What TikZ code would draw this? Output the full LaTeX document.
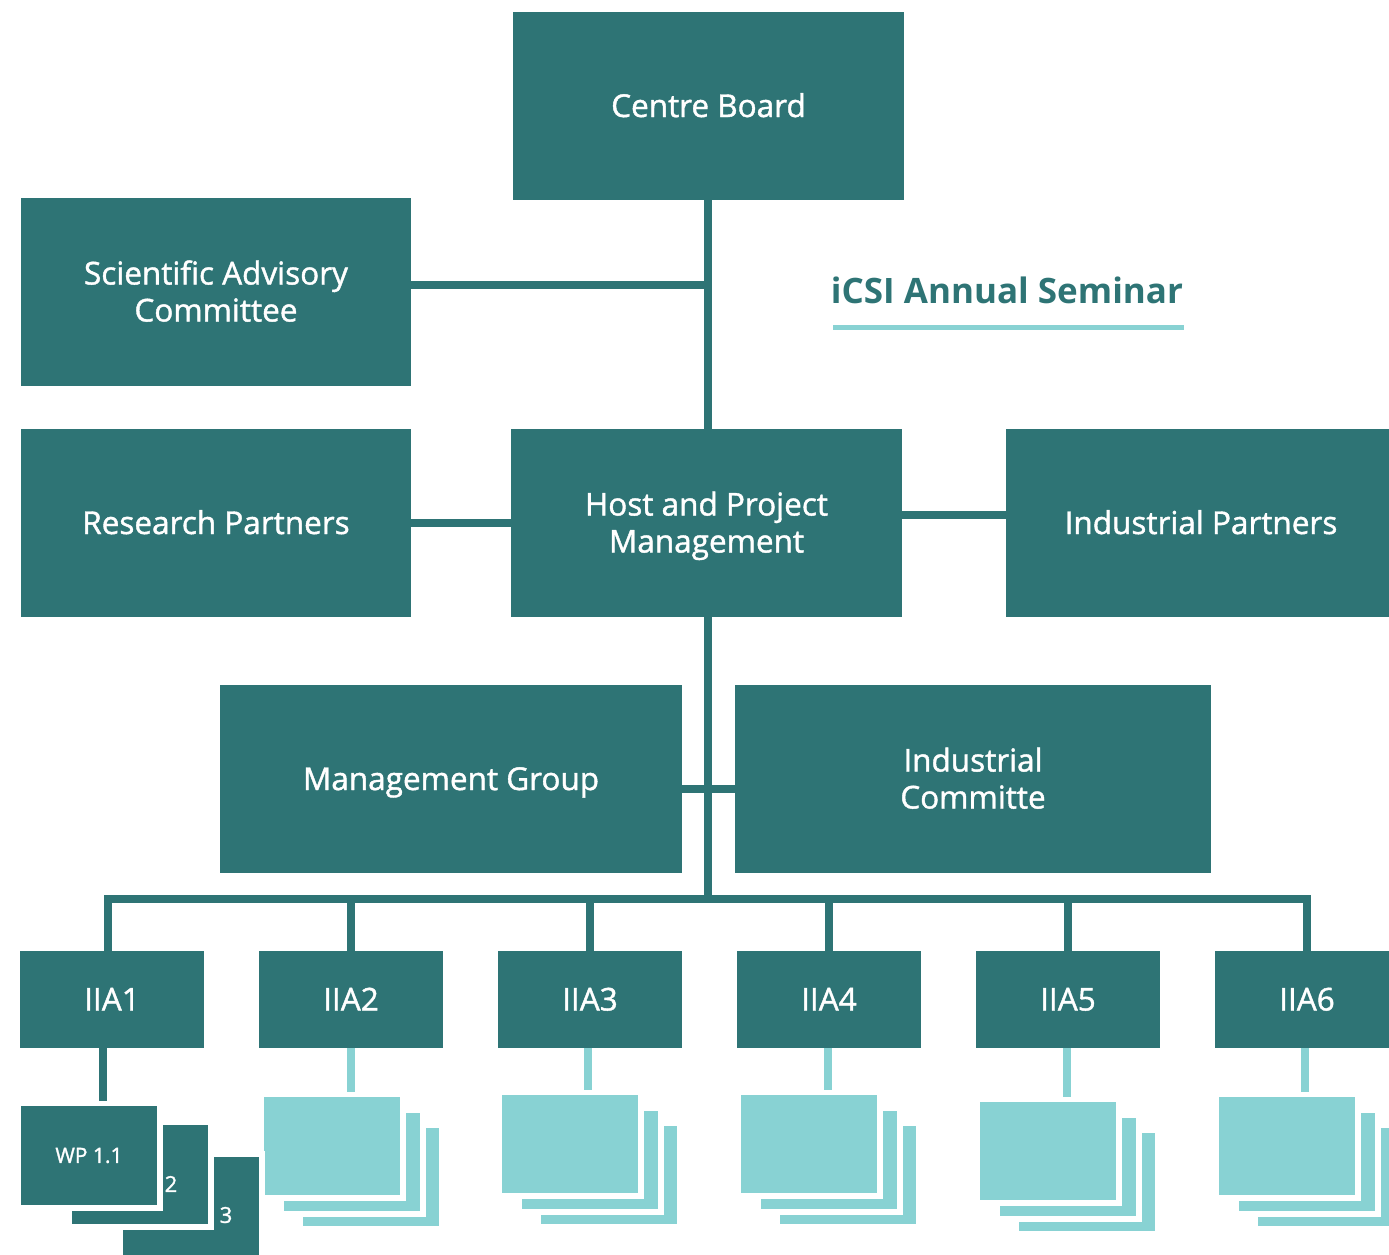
\documentclass[tikz,border=0pt]{standalone}
\usepackage{fontspec}
\setmainfont{Open Sans}
\IfFontExistsTF{Open Sans SemiBold}
  {\newfontfamily\semib{Open Sans SemiBold}\newcommand\bsz{31}}
  {\newfontfamily\semib{Open Sans}[FakeBold=1.3]\newcommand\bsz{31.5}}
\definecolor{dk}{HTML}{2E7475}
\definecolor{lt}{HTML}{88D2D3}
\begin{document}
\begin{tikzpicture}[x=1pt,y=-1pt,
  box/.style={fill=dk, text=white, inner sep=0pt, align=center,
    text height=22pt, text depth=0pt,
    font=\semib\fontsize{\bsz}{37}\selectfont},
  boxtwo/.style={box, text height=59pt},
  conn/.style={draw=dk, line width=8pt},
  lconn/.style={draw=lt, line width=8pt},
  sheet/.style={fill=lt, draw=white, line width=6pt, outer sep=0pt,
    minimum width=142pt, minimum height=104pt, inner sep=0pt},
  dsheet/.style={sheet, fill=dk, text=white, minimum height=105pt,
    font=\semib\fontsize{21}{24}\selectfont},
  numlbl/.style={text=white, inner sep=0pt, font=\semib\fontsize{22}{24}\selectfont},
  title/.style={text=dk, inner sep=0pt, font=\bfseries\fontsize{35}{40}\selectfont}]
\useasboundingbox (0,0) rectangle (1389,1254);

% main boxes
\node[box, minimum width=391pt, minimum height=188pt] (cb) at (708.5,106) {Centre Board};
\node[boxtwo, minimum width=390pt, minimum height=188pt] (sac) at (216,292) {Scientific Advisory\\Committee};
\node[box, minimum width=390pt, minimum height=188pt] (rp) at (216,523) {Research Partners};
\node[boxtwo, minimum width=391pt, minimum height=188pt] (hpm) at (706.5,523) {Host and Project\\Management};
\node[box, minimum width=390pt, minimum height=188pt] (ip) at (1201,523) {Industrial Partners};
\node[box, minimum width=462pt, minimum height=188pt] (mg) at (451,779) {Management Group};
\node[boxtwo, minimum width=476pt, minimum height=188pt] (ic) at (973,779) {Industrial\\Committe};

% title
\node[title] (sem) at (1007,290) {iCSI Annual Seminar};
\coordinate (ul1) at (833,327.5);
\coordinate (ul2) at (1184,327.5);
\draw[lt, line width=5pt] (ul1) -- (ul2);

% IIA boxes
\foreach \i/\x in {1/112,2/351,3/590,4/829,5/1068,6/1307}
  \node[box, minimum width=184pt, minimum height=97pt] (iia\i) at (\x,999.5) {IIA\i};

% connectors upper
\coordinate (j1) at (708,285);
\coordinate (j2) at (902,515);
\coordinate (j3) at (708,789);
\coordinate (tr) at (708,899);
\draw[conn] (cb.south -| j1) -- (j1 |- hpm.north);
\draw[conn] (sac.east |- j1) -- (j1);
\draw[conn] (rp.east) -- (rp.east -| hpm.west);
\draw[conn] (j2) -- (j2 -| ip.west);
\draw[conn] (hpm.south -| tr) -- (tr);
\draw[conn] (j3 -| mg.east) -- (j3 -| ic.west);
\draw[conn] ([xshift=-4pt]iia1.north) |- (tr) -| (iia6.north);
\foreach \i in {2,3,4,5}
  \draw[conn] (iia\i.north) -- (iia\i.north |- tr);

% sheet stacks
\foreach \i/\fx/\fy/\cx in {2/264/1097/351,3/502/1095/588,4/741/1095/828,5/980/1102/1067,6/1219/1097/1305}{
  \node[sheet] (s\i c) at (\fx+107,\fy+80) {};
  \node[sheet] (s\i b) at (\fx+88,\fy+65) {};
  \node[sheet] (s\i a) at (\fx+68,\fy+49) {};
  \coordinate (k\i) at (\cx,1048);
  \draw[lconn] (k\i) -- ([yshift=2pt]k\i |- s\i a.north);
}

% WP stack
\coordinate (k1) at (103,1048);
\node[dsheet] (wp3) at (191,1206.5) {};
\node[dsheet] (wp2) at (140,1174.5) {};
\node[dsheet] (wp1) at (89,1155.5) {WP 1.1};
\draw[conn] (k1) -- ([yshift=2pt]k1 |- wp1.north);
\node[numlbl] (n2) at (171,1184) {2};
\node[numlbl] (n3) at (226,1215) {3};
\end{tikzpicture}
\end{document}
